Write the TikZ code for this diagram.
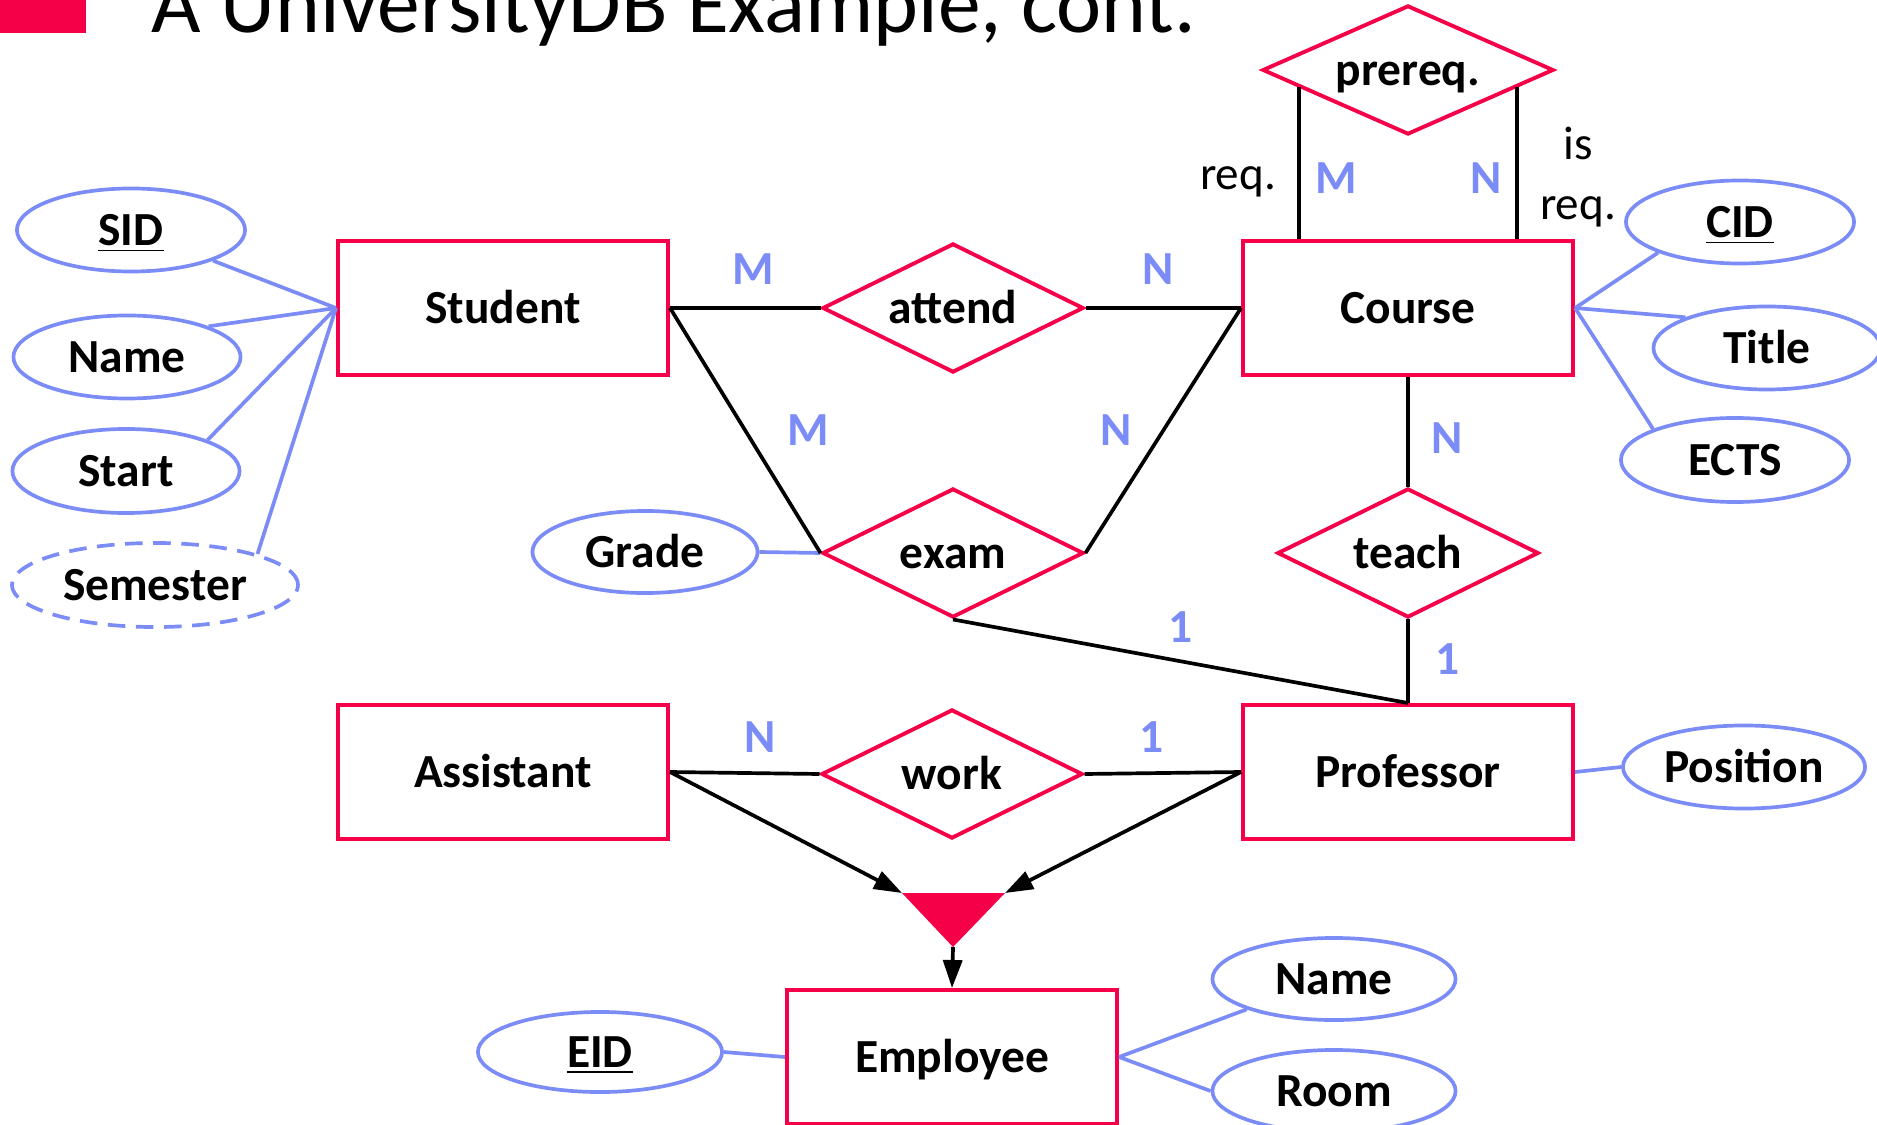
\documentclass[tikz,border=0pt]{standalone}
\usepackage{fontspec}
\setmainfont{Carlito}
\usetikzlibrary{shapes.geometric, arrows.meta, positioning, calc}
\definecolor{erred}{RGB}{245,0,72}
\definecolor{erblue}{RGB}{124,140,247}
\newcommand{\erfont}{\fontsize{13.5}{16}\selectfont}
\newcommand{\notefont}{\fontsize{13.4}{17.1}\selectfont}

\begin{document}
\begin{tikzpicture}[
        x=0.01cm, y=-0.01cm,
        entity/.style={rectangle, draw=erred, line width=1.1pt, minimum width=3.3cm, minimum height=1.34cm, inner sep=0pt, font=\erfont\bfseries, text height=3.04mm, text depth=0pt},
        rel/.style={diamond, aspect=2, draw=erred, line width=1.1pt, minimum width=2.61cm, minimum height=1.29cm, inner sep=0pt, font=\erfont\bfseries, text height=3.04mm, text depth=0pt},
        attr/.style={ellipse, draw=erblue, line width=1.05pt, minimum width=2.27cm, minimum height=0.83cm, inner sep=0pt, font=\erfont\bfseries, text height=3.04mm, text depth=0pt},
        dattr/.style={attr, dash pattern=on 5pt off 3pt},
        link/.style={draw=black, line width=1.05pt},
        attrlink/.style={draw=erblue, line width=1.05pt},
        isaarrow/.style={link, -{Triangle[length=2.8mm, width=1.9mm]}},
        card/.style={text=erblue, font=\erfont\bfseries, inner sep=0pt, text height=3.04mm, text depth=0pt},
        note/.style={font=\notefont, inner sep=0pt}
    ]
        \useasboundingbox (0,0) rectangle (1877,1125);
        % slide title
        \fill[erred] (0,0) rectangle (86,33);
        \node[anchor=base west, inner sep=0pt, font=\fontsize{24.3}{28}\selectfont] (slidetitle) at (151,33) {A UniversityDB Example, cont.};
        % entities
        \node[entity] (student) at (503,308) {Student};
        \node[entity] (course) at (1408,308) {Course};
        \node[entity] (assistant) at (503,772) {Assistant};
        \node[entity] (professor) at (1408,772) {Professor};
        \node[entity] (employee) at (952,1057) {Employee};
        % relationships
        \node[rel] (attend) at (953,308) {attend};
        \node[rel] (exam) at (953,553) {exam};
        \node[rel] (teach) at (1408,553) {teach};
        \node[rel] (work) at (952,774) {work};
        \node[rel, minimum width=2.91cm] (prereq) at (1408,70) {prereq.};
        % attributes
        \node[attr, minimum width=2.28cm] (sid) at (131,230) {\underline{SID}};
        \node[attr] (sname) at (127,357) {Name};
        \node[attr, minimum height=0.84cm] (start) at (126,471) {Start};
        \node[dattr, minimum width=2.86cm, minimum height=0.84cm] (semester) at (155,585) {Semester};
        \node[attr, minimum width=2.25cm, minimum height=0.82cm] (grade) at (645,552) {Grade};
        \node[attr, minimum width=2.28cm] (cid) at (1740,222) {\underline{CID}};
        \node[attr] (title) at (1767,348) {Title};
        \node[attr, minimum width=2.28cm, minimum height=0.84cm] (ects) at (1735,460) {ECTS};
        \node[attr, minimum width=2.42cm] (position) at (1744,767) {Position};
        \node[attr, minimum width=2.44cm, minimum height=0.8cm] (eid) at (600,1052) {\underline{EID}};
        \node[attr, minimum width=2.43cm, minimum height=0.82cm] (ename) at (1334,979) {Name};
        \node[attr, minimum width=2.43cm, minimum height=0.82cm] (room) at (1334,1091) {Room};
        % attribute links
        \draw[attrlink] (sid.south east) -- (student.west);
        \draw[attrlink] (sname.north east) -- (student.west);
        \draw[attrlink] (start.north east) -- (student.west);
        \draw[attrlink] (semester.north east) -- (student.west);
        \draw[attrlink] (grade.east) -- (exam.west);
        \draw[attrlink] (cid.south west) -- (course.east);
        \draw[attrlink] (title.north west) -- (course.east);
        \draw[attrlink] (ects.north west) -- (course.east);
        \draw[attrlink] (position.west) -- (professor.east);
        \draw[attrlink] (eid.east) -- (employee.west);
        \draw[attrlink] (ename.south west) -- (employee.east);
        \draw[attrlink] (room.west) -- (employee.east);
        % relationship links
        \draw[link] (student.east) -- (attend.west) node[card, pos=0.55, above=0.22cm] {M};
        \draw[link] (attend.east) -- (course.west) node[card, pos=0.47, above=0.22cm] {N};
        \draw[link] (student.east) -- (exam.west) node[card, pos=0.5, right=0.4cm] {M};
        \draw[link] (course.west) -- (exam.east) node[card, pos=0.5, left=0.3cm] {N};
        \draw[link] (course.south) -- (teach.north) node[card, pos=0.56, right=0.22cm] {N};
        \draw[link] (teach.south) -- (professor.north) node[card, pos=0.48, right=0.26cm] {1};
        \draw[link] (exam.south) -- (professor.north) node[card, pos=0.5, above=0.17cm] {1};
        \draw[link] (assistant.east) -- (work.west) node[card, pos=0.6, above=0.19cm] {N};
        \draw[link] (work.east) -- (professor.west) node[card, pos=0.43, above=0.19cm] {1};
        \draw[link] (prereq.189) -- (prereq.189 |- course.north) node[card, pos=0.6, right=0.15cm] {M} node[note, pos=0.62, left=0.21cm] {req.};
        \draw[link] (prereq.351) -- (prereq.351 |- course.north) node[card, pos=0.6, left=0.14cm] {N} node[note, align=center, pos=0.59, right=0.21cm] {is\\req.};
        % is-a triangle
        \coordinate (isaL) at (902,893);
        \coordinate (isaR) at (1005,893);
        \coordinate (isaB) at (953,947);
        \fill[erred] (isaL) -- (isaR) -- (isaB) -- cycle;
        \draw[isaarrow] (assistant.east) -- (isaL);
        \draw[isaarrow] (professor.west) -- (isaR);
        \draw[isaarrow] (isaB) -- (employee.north);
    \end{tikzpicture}
\end{document}
